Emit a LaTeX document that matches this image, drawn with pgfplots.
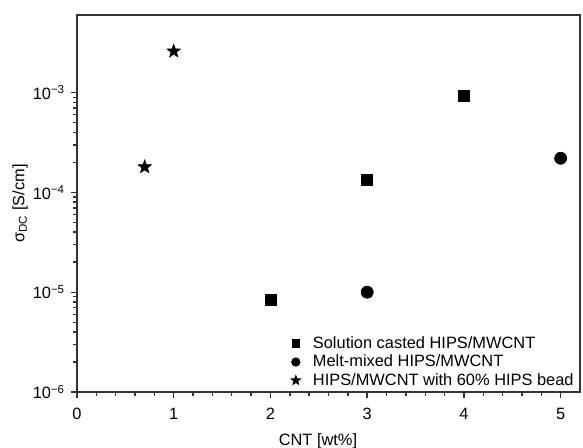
\documentclass[border=0pt]{standalone}
\usepackage{pgfplots}
\pgfplotsset{compat=1.18}
\usepackage{fontspec}
\setmainfont{Liberation Sans}
\pgfdeclareplotmark{fstar}{%
  \pgfpathmoveto{\pgfpointpolar{90}{\pgfplotmarksize}}%
  \pgfpathlineto{\pgfpointpolar{126}{0.42\pgfplotmarksize}}%
  \pgfpathlineto{\pgfpointpolar{162}{\pgfplotmarksize}}%
  \pgfpathlineto{\pgfpointpolar{198}{0.42\pgfplotmarksize}}%
  \pgfpathlineto{\pgfpointpolar{234}{\pgfplotmarksize}}%
  \pgfpathlineto{\pgfpointpolar{270}{0.42\pgfplotmarksize}}%
  \pgfpathlineto{\pgfpointpolar{306}{\pgfplotmarksize}}%
  \pgfpathlineto{\pgfpointpolar{342}{0.42\pgfplotmarksize}}%
  \pgfpathlineto{\pgfpointpolar{18}{\pgfplotmarksize}}%
  \pgfpathlineto{\pgfpointpolar{54}{0.42\pgfplotmarksize}}%
  \pgfpathclose
  \pgfusepathqfillstroke
}
\begin{document}
\fontsize{8.2}{10}\selectfont
\begin{tikzpicture}
\begin{axis}[
  name=ax,
  width=251.5pt, height=188.5pt, scale only axis,
  xmin=0, xmax=5.2, ymin=1e-6, ymax=6e-3, ymode=log,
  xtick={0,1,2,3,4,5}, xticklabels={0,1,2,3,4,5},
  minor x tick num=4,
  ytick={1e-6,1e-5,1e-4,1e-3},
  yticklabels={10\textsuperscript{−6},10\textsuperscript{−5},10\textsuperscript{−4},10\textsuperscript{−3}},
  xtick pos=left, ytick pos=left,
  tick align=outside,
  major tick length=3pt, minor tick length=2pt,
  axis line style={line width=0.9pt, black!80},
  every tick/.style={line width=0.7pt, black!80},
  tick label style={font=\fontsize{8.2}{10}\selectfont},
  xticklabel style={yshift=-2pt},
  label style={font=\fontsize{8.2}{10}\selectfont},
  xlabel={CNT [wt\%]},
  ylabel={σ\textsubscript{DC} [S/cm]},
  xlabel style={at={(axis description cs:0.479,0)}, anchor=center, yshift=-24.5pt},
  ylabel style={at={(axis description cs:-0.113,0.5)}, anchor=center},
  legend style={at={(1,0)}, anchor=south east, xshift=0pt, yshift=-1pt,
    draw=none, fill=none,
    font=\fontsize{8.2}{10}\selectfont, row sep=-2pt, inner sep=1pt},
  legend cell align=left,
  legend image code/.code={\path[draw=none] (0cm,0cm) -- (0.28cm,0cm);
    \draw[#1, mark options={scale=0.7}] plot coordinates {(0.05cm,0cm)};},
]
\addplot[only marks, mark=square*, mark size=2.75pt, black] coordinates {
  (2,8.3e-6) (3,1.35e-4) (4,9.3e-4)
};
\addlegendentry{Solution casted HIPS/MWCNT}
\addplot[only marks, mark=*, mark size=3pt, black] coordinates {
  (3,1.0e-5) (5,2.2e-4)
};
\addlegendentry{Melt-mixed HIPS/MWCNT}
\addplot[only marks, mark=fstar, mark size=3.5pt, black, mark options={fill=black, line width=0.3pt}] coordinates {
  (0.7,1.8e-4) (1.0,2.6e-3)
};
\addlegendentry{HIPS/MWCNT with 60\% HIPS bead}
\end{axis}
\pgfresetboundingbox
\path[use as bounding box] ([xshift=-38.5pt,yshift=-28pt]ax.south west) rectangle ([xshift=1.5pt,yshift=7.5pt]ax.north east);
\end{tikzpicture}
\end{document}
